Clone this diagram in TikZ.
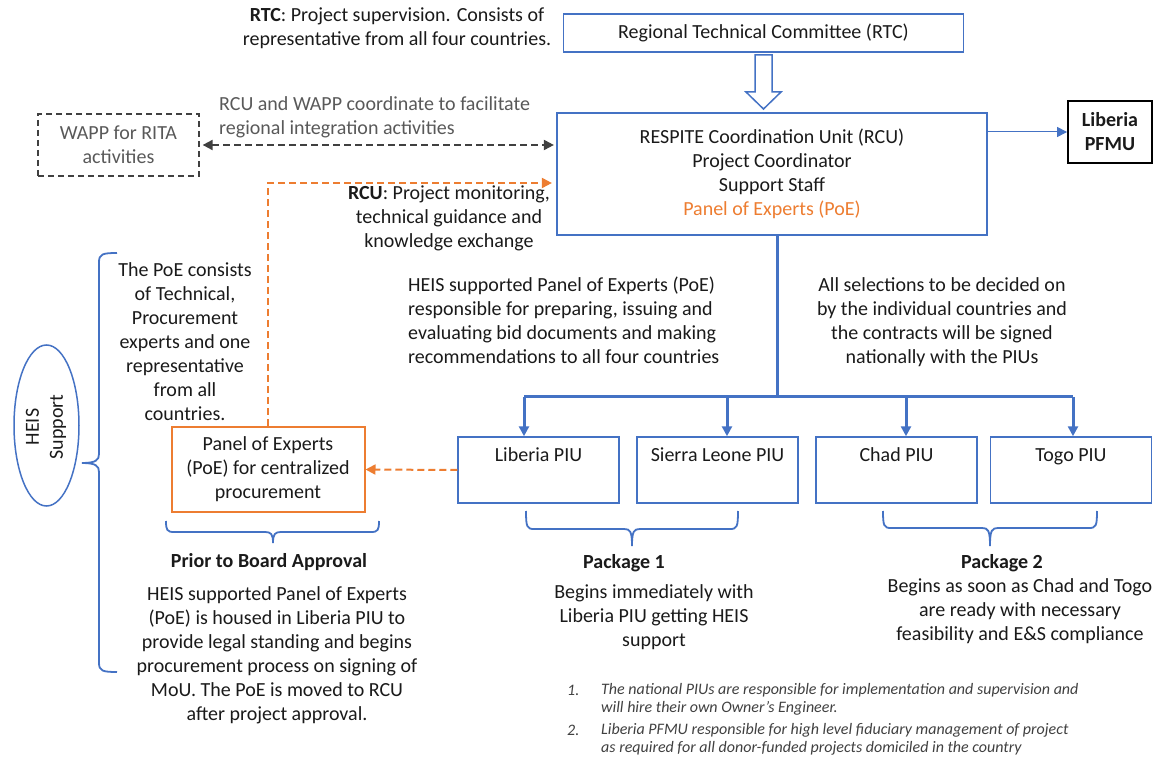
\documentclass[tikz,border=0pt]{standalone}
\usepackage{fontspec}
\setmainfont{Carlito}
\usetikzlibrary{arrows.meta,shapes.geometric}
\definecolor{cblue}{HTML}{4472C4}
\definecolor{corange}{HTML}{ED7D31}
\definecolor{cgray}{HTML}{595959}
\definecolor{cdark}{HTML}{404040}
\definecolor{ctext}{HTML}{1A1A1A}
\newcommand\mybrace[6]{%
  \draw[cblue, line width=1.8pt] (#1,#4) .. controls (#1,{#5-2}) and ({#1+1},#5) .. ({#1+8},#5)
    -- ({#3-8},#5) .. controls ({#3-2},#5) and (#3,{#5+2}) .. (#3,#6)
    .. controls (#3,{#5+2}) and ({#3+2},#5) .. ({#3+8},#5)
    -- ({#2-8},#5) .. controls ({#2-1},#5) and (#2,{#5-2}) .. (#2,#4);}
\begin{document}
\begin{tikzpicture}[x=1pt,y=-1pt,
  txt/.style={font=\fontsize{20}{24}\selectfont, align=center, inner sep=0pt, text=ctext},
  boldtxt/.style={txt, font=\bfseries\fontsize{20}{24}\selectfont},
  fn/.style={font=\itshape\fontsize{16}{18}\selectfont, inner sep=0pt, text=cdark, align=left},
  box/.style={draw=cblue, line width=1.8pt, inner sep=0pt},
  piu/.style={box, line width=1.5pt, minimum width=161pt, minimum height=66pt},
  piulab/.style={txt, anchor=base, yshift=-25pt},
  tip/.style={-{Triangle[length=10pt,width=10pt]}},
  dashline/.style={line width=2pt, dash pattern=on 7pt off 4pt},
]
\useasboundingbox (0,0) rectangle (1160,759);

% top
\node[txt] (rtctext) at (397,28) {\textbf{RTC}: Project supervision. Consists of\\representative from all four countries.};
\node[box, txt, minimum width=400pt, minimum height=38pt] (rtc) at (763.5,33) {Regional Technical Committee (RTC)};
\node[box, txt, line width=2.2pt, minimum width=430pt, minimum height=122pt] (rcu) at (772,174)
  {RESPITE Coordination Unit (RCU)\\Project Coordinator\\Support Staff\\\textcolor{corange}{Panel of Experts (PoE)}};
\draw[cblue, line width=1.5pt, line join=miter] (755,55) -- (772,55) -- (772,92) -- (781,92) -- (763.5,109) -- (746,92) -- (755,92) -- cycle;

\node[draw=black, line width=1.8pt, boldtxt, minimum width=84pt, minimum height=62pt] (pfmu) at (1110,132) {Liberia\\PFMU};
\draw[cblue, line width=1pt, tip] (pfmu.west -| rcu.east) -- (pfmu.west);

\node[draw=cdark, line width=1.3pt, dash pattern=on 6pt off 4pt, txt, text=cgray, minimum width=161pt, minimum height=62pt] (wapp) at (118.5,145) {WAPP for RITA\\activities};
\node[txt, text=cgray, align=left, anchor=west] (wapptext) at (219,117.5) {RCU and WAPP coordinate to facilitate\\regional integration activities};
\draw[cdark, dashline, {Triangle[length=10pt,width=10pt]}-{Triangle[length=10pt,width=10pt]}, shorten <=3pt, shorten >=2pt] (wapp.east) -- (wapp.east -| rcu.west);

% left
\node[draw=corange, line width=2pt, txt, minimum width=193pt, minimum height=85pt] (poe) at (268,469.5) {Panel of Experts\\(PoE) for centralized\\procurement};
\coordinate (ocorner) at (268,183);
\draw[corange, dashline, tip, shorten >=4pt] (poe.north) -- (ocorner) -- (ocorner -| rcu.west);
\node[txt] (rcutext) at (449,218) {\textbf{RCU}: Project monitoring,\\technical guidance and\\knowledge exchange};

\node[txt] (poeinfo) at (185,342) {The PoE consists\\of Technical,\\Procurement\\experts and one\\representative\\from all\\countries.};
\node[draw=cblue, line width=1.5pt, ellipse, minimum width=65pt, minimum height=161pt, inner sep=0pt] (heis) at (46.5,425.5) {};
\node[txt, rotate=90] (heistxt) at (46,427) {HEIS\\Support};
\draw[cblue, line width=1.8pt] (117,253) .. controls (103,253) and (99,254) .. (99,262) -- (99,454)
  .. controls (99,460) and (96,463) .. (82,463) .. controls (96,463) and (99,466) .. (99,472)
  -- (99,663) .. controls (99,671) and (103,672) .. (117,672);

\mybrace{166}{379}{273}{521}{532}{543}
\node[boldtxt] (prior) at (269,562) {Prior to Board Approval};
\node[txt] (priortext) at (277,655) {HEIS supported Panel of Experts\\(PoE) is housed in Liberia PIU to\\provide legal standing and begins\\procurement process on signing of\\MoU. The PoE is moved to RCU\\after project approval.};

% middle
\node[txt, align=left, anchor=west] (heist) at (408,320) {HEIS supported Panel of Experts (PoE)\\responsible for preparing, issuing and\\evaluating bid documents and making\\recommendations to all four countries};
\node[txt] (selt) at (942,322) {All selections to be decided on\\by the individual countries and\\the contracts will be signed\\nationally with the PIUs};

% PIUs
\node[piu, label={[piulab]north:Liberia PIU}] (lib) at (538.5,470) {};
\node[piu, label={[piulab]north:Sierra Leone PIU}] (sl) at (717.5,470) {};
\node[piu, label={[piulab]north:Chad PIU}] (chad) at (896.5,470) {};
\node[piu, label={[piulab]north:Togo PIU}] (togo) at (1071,470) {};

\coordinate (junc) at (777,397);
\coordinate (b1) at (524,397);
\coordinate (b2) at (727,397);
\coordinate (b3) at (906,397);
\coordinate (b4) at (1073,397);
\draw[cblue, line width=3pt] (rcu.south -| junc) -- (junc);
\draw[cblue, line width=3pt] (b1) -- (b4);
\foreach \b/\n in {b1/lib, b2/sl, b3/chad, b4/togo}{
  \draw[cblue, line width=3pt, tip, line cap=butt] (\b) -- (\b |- \n.north);
}
\draw[corange, dashline, tip] (lib.west) -- (poe.east);

% packages
\mybrace{526}{738}{632}{511}{529}{546}
\mybrace{883}{1097}{990}{511}{528}{546}
\node[boldtxt] (p1) at (624,563) {Package 1};
\node[txt] (p1t) at (654,617) {Begins immediately with\\Liberia PIU getting HEIS\\support};
\node[boldtxt] (p2) at (1002,563) {Package 2};
\node[txt] (p2t) at (1020,611) {Begins as soon as Chad and Togo\\are ready with necessary\\feasibility and E\&S compliance};

% footnotes
\node[fn, anchor=west] (n1) at (567,690) {1.};
\node[fn, anchor=west] (f1) at (601,699) {The national PIUs are responsible for implementation and supervision and\\will hire their own Owner’s Engineer.};
\node[fn, anchor=west] (n2) at (567,730) {2.};
\node[fn, anchor=west] (f2) at (601,739) {Liberia PFMU responsible for high level fiduciary management of project\\as required for all donor-funded projects domiciled in the country};
\end{tikzpicture}
\end{document}
